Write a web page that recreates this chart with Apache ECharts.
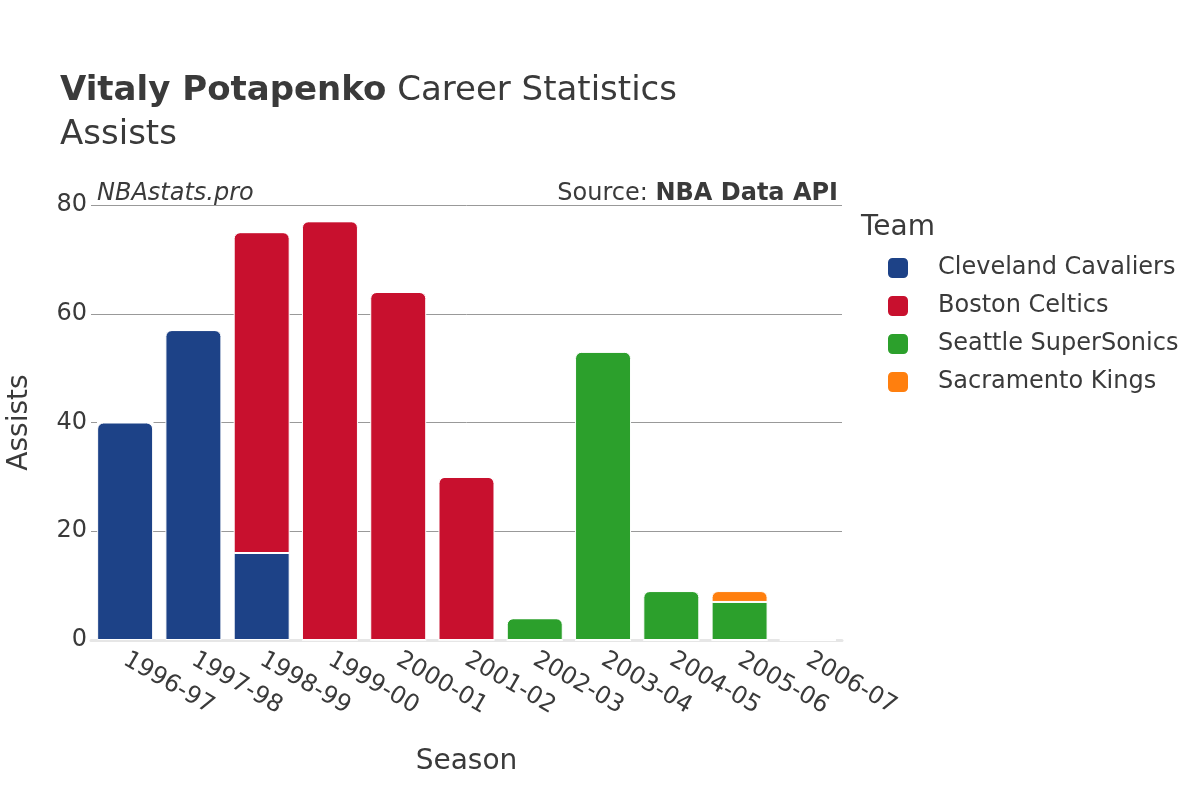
<!DOCTYPE html>
<html>
<head>
<meta charset="utf-8">
<script src="https://cdn.jsdelivr.net/npm/echarts@6/dist/echarts.min.js"></script>
<style>
  html, body { margin: 0; padding: 0; background: #fff; }
  #chart { width: 1200px; height: 800px; }
</style>
</head>
<body>
<div id="chart"></div>
<script>
const seasons = ['1996-97', '1997-98', '1998-99', '1999-00', '2000-01', '2001-02', '2002-03', '2003-04', '2004-05', '2005-06', '2006-07'];
const teams = ['Cleveland Cavaliers', 'Boston Celtics', 'Seattle SuperSonics', 'Sacramento Kings'];
const teamColors = ['#1d4287', '#c8102e', '#2ca02c', '#ff7f0e'];
const cavaliers = [40, 57, 16, 0, 0, 0, 0, 0, 0, 0, 0];
const celtics = [0, 0, 59, 77, 64, 30, 0, 0, 0, 0, 0];
const sonics = [0, 0, 0, 0, 0, 0, 4, 53, 9, 7, 0];
const kings = [0, 0, 0, 0, 0, 0, 0, 0, 0, 2, 0];
const yTicks = [0, 20, 40, 60, 80];

const values = [cavaliers, celtics, sonics, kings];
const font = 'DejaVu Sans, sans-serif';
const textColor = '#3a3a3a';

// index of top-most non-zero segment for each season, gets the rounded corners
const topIdx = seasons.map((_, i) => {
  let t = -1;
  values.forEach((arr, s) => { if (arr[i] > 0) t = s; });
  return t;
});

const series = teams.map((name, s) => ({
  name: name,
  type: 'bar',
  stack: 'total',
  barCategoryGap: '18%',
  itemStyle: { color: teamColors[s], borderColor: '#fff', borderWidth: 1 },
  data: values[s].map((v, i) => ({
    value: v,
    itemStyle: { borderRadius: topIdx[i] === s ? [6, 6, 0, 0] : 0 }
  }))
}));

const chart = echarts.init(document.getElementById('chart'));
chart.setOption({
  animation: false,
  textStyle: { fontFamily: font },
  title: [{
    text: '{b|Vitaly Potapenko} Career Statistics\nAssists',
    left: 60,
    top: 69,
    padding: 0,
    textStyle: {
      fontFamily: font,
      fontSize: 34,
      fontWeight: 'normal',
      color: textColor,
      lineHeight: 44,
      rich: { b: { fontFamily: font, fontSize: 34, fontWeight: 'bold', color: textColor, lineHeight: 44 } }
    }
  }, {
    text: 'NBAstats.pro',
    left: 97,
    top: 182,
    padding: 0,
    textStyle: { fontFamily: font, fontSize: 24, fontStyle: 'italic', fontWeight: 'normal', color: textColor }
  }, {
    text: 'Source: {b|NBA Data API}',
    right: 362,
    top: 182,
    padding: 0,
    textStyle: {
      fontFamily: font, fontSize: 24, fontWeight: 'normal', color: textColor,
      rich: { b: { fontFamily: font, fontSize: 24, fontWeight: 'bold', color: textColor } }
    }
  }, {
    text: 'Team',
    left: 861,
    top: 214,
    padding: 0,
    textStyle: { fontFamily: font, fontSize: 28, fontWeight: 'normal', color: textColor }
  }],
  legend: {
    orient: 'vertical',
    left: 886,
    top: 256,
    padding: 0,
    icon: 'roundRect',
    itemWidth: 22,
    itemHeight: 22,
    itemGap: 14,
    data: teams,
    textStyle: { fontFamily: font, fontSize: 24, lineHeight: 22, color: textColor, padding: [0, 0, 0, 24] }
  },
  grid: { left: 91, right: 358, top: 205, bottom: 160, outerBoundsMode: 'none' },
  xAxis: {
    type: 'category',
    data: seasons,
    name: 'Season',
    nameLocation: 'middle',
    nameGap: 108,
    nameTextStyle: { fontFamily: font, fontSize: 28, color: textColor },
    axisLine: { lineStyle: { color: '#e6e6e6', width: 3 } },
    axisTick: { show: false },
    axisLabel: { rotate: -30, fontSize: 24, color: textColor, margin: 18, fontFamily: font }
  },
  yAxis: {
    type: 'value',
    min: 0,
    max: 80,
    interval: 20,
    name: 'Assists',
    nameLocation: 'middle',
    nameGap: 57,
    nameTextStyle: { fontFamily: font, fontSize: 28, color: textColor },
    axisLine: { show: false },
    axisTick: { show: false },
    axisLabel: {
      fontSize: 24, color: textColor, margin: 4, fontFamily: font,
      formatter: v => (yTicks.indexOf(v) >= 0 ? String(v) : '')
    },
    splitLine: { lineStyle: { color: '#999', width: 1 } }
  },
  series: series
});
</script>
</body>
</html>
